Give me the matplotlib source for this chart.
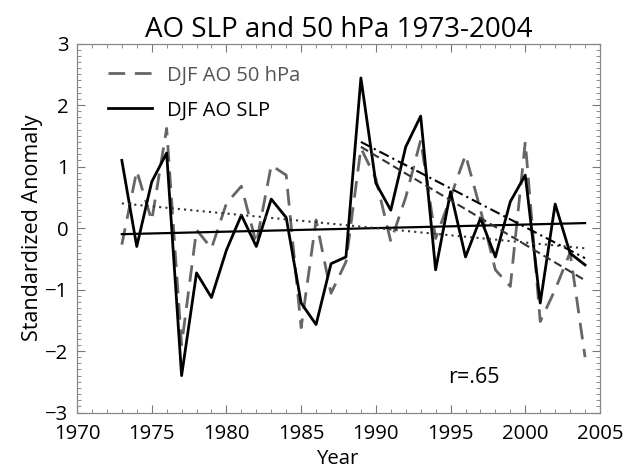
import numpy as np
import matplotlib.pyplot as plt
from matplotlib.ticker import MultipleLocator

plt.rcParams['font.family'] = ['Open Sans', 'DejaVu Sans']

# Data
years = np.arange(1973, 2005)
ao_slp = [1.10, -0.30, 0.75, 1.22, -2.40, -0.73, -1.13, -0.36, 0.21, -0.30,
          0.47, 0.17, -1.22, -1.57, -0.58, -0.47, 2.44, 0.73, 0.29, 1.32,
          1.82, -0.68, 0.59, -0.47, 0.16, -0.47, 0.43, 0.86, -1.22, 0.39,
          -0.41, -0.60]
ao_50 = [-0.27, 0.93, 0.12, 1.62, -1.90, -0.03, -0.33, 0.40, 0.68, -0.25,
         1.02, 0.86, -1.62, 0.13, -1.06, -0.55, 1.30, 0.80, -0.22, 0.50,
         1.43, -0.17, 0.50, 1.19, 0.30, -0.68, -0.95, 1.40, -1.52, -1.00,
         -0.40, -2.10]

# trend line end points (year, value)
trend_slp_yrs, trend_slp_vals = [1973, 2004], [-0.10, 0.08]
trend_50_yrs, trend_50_vals = [1973, 2004], [0.40, -0.33]
trend_slp_late_yrs, trend_slp_late_vals = [1989, 2004], [1.40, -0.49]
trend_50_late_yrs, trend_50_late_vals = [1989, 2004], [1.32, -0.85]

fig = plt.figure(figsize=(6.28, 4.72), dpi=100)
ax = fig.add_axes([0.1226, 0.126, 0.8328, 0.7818])

ax.plot(years, ao_50, color='#666666', lw=2, linestyle=(0, (6, 3.5)),
        label='DJF AO 50 hPa')
ax.plot(years, ao_slp, color='black', lw=2, label='DJF AO SLP')

ax.plot(trend_slp_yrs, trend_slp_vals, color='black', lw=1.6)
ax.plot(trend_50_yrs, trend_50_vals, color='#333333', lw=1.5, linestyle=(0, (1, 2)))
ax.plot(trend_slp_late_yrs, trend_slp_late_vals, color='black', lw=1.5,
        linestyle=(0, (5, 2, 1, 2)))
ax.plot(trend_50_late_yrs, trend_50_late_vals, color='#333333', lw=1.5,
        linestyle=(0, (4, 2)))

ax.set_xlim(1970, 2005)
ax.set_ylim(-3, 3)
ax.xaxis.set_major_locator(MultipleLocator(5))
ax.xaxis.set_minor_locator(MultipleLocator(1))
ax.yaxis.set_major_locator(MultipleLocator(1))
ax.yaxis.set_minor_locator(MultipleLocator(0.1))
ax.tick_params(which='both', direction='in', top=True, right=True,
               color='#777777', labelsize=14.7)
ax.tick_params(axis='x', pad=8)
ax.tick_params(axis='y', pad=6)
ax.tick_params(which='major', length=6, width=0.8)
ax.tick_params(which='minor', length=3, width=0.6)
for s in ax.spines.values():
    s.set_color('#888888')
    s.set_linewidth(0.9)

ax.set_xlabel('Year', fontsize=14.7, labelpad=4)
ax.set_ylabel('Standardized Anomaly', fontsize=15.5, labelpad=2)
ax.set_title('AO SLP and 50 hPa 1973-2004', fontsize=20, pad=5)

leg = ax.legend(loc='upper left', frameon=False, fontsize=14.5,
                handlelength=2.2, handletextpad=0.7, labelspacing=0.75,
                bbox_to_anchor=(0.025, 0.99))
leg.get_texts()[0].set_color('#555555')

ax.text(0.71, 0.08, 'r=.65', transform=ax.transAxes, fontsize=15.5)

fig.savefig('out.png', dpi=100)
